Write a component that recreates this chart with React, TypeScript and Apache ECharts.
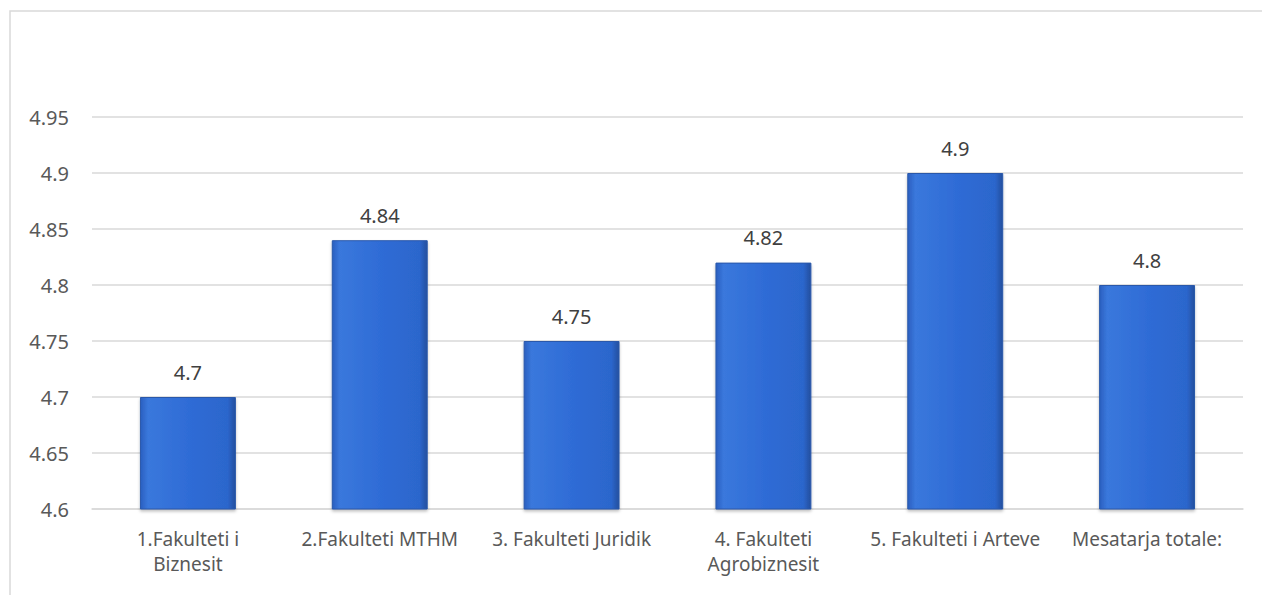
import React, { useEffect, useRef } from "react";
import * as echarts from "echarts";

const categories = [
  "1.Fakulteti i\nBiznesit",
  "2.Fakulteti MTHM",
  "3. Fakulteti Juridik",
  "4. Fakulteti\nAgrobiznesit",
  "5. Fakulteti i Arteve",
  "Mesatarja totale:",
];
const values = [4.7, 4.84, 4.75, 4.82, 4.9, 4.8];
const yMin = 4.6;
const yMax = 4.95;
const yStep = 0.05;

export default function App() {
  const ref = useRef<HTMLDivElement>(null);
  useEffect(() => {
    if (!ref.current) return;
    const chart = echarts.init(ref.current, undefined, { renderer: "svg" });
    const font = "'Noto Sans', 'Open Sans', sans-serif";
    chart.setOption({
      animation: false,
      backgroundColor: "#ffffff",
      graphic: [
        {
          type: "rect",
          shape: { x: 10, y: 11, width: 1300, height: 700 },
          style: { fill: "none", stroke: "#d9d9d9", lineWidth: 1.5 },
          silent: true,
          z: -1,
        },
      ],
      grid: { left: 92, right: 19, top: 117, bottom: 86, containLabel: false },
      xAxis: {
        type: "category",
        data: categories,
        axisTick: { show: false },
        axisLine: { show: true, lineStyle: { color: "#d9d9d9", width: 1.5 } },
        axisLabel: {
          color: "#595959",
          fontSize: 19,
          fontFamily: font,
          margin: 17,
          lineHeight: 25,
          interval: 0,
        },
      },
      yAxis: {
        type: "value",
        min: yMin,
        max: yMax,
        interval: yStep,
        axisLine: { show: false },
        axisTick: { show: false },
        splitLine: { lineStyle: { color: "#d9d9d9", width: 1.5 } },
        axisLabel: {
          color: "#595959",
          fontSize: 20,
          fontFamily: font,
          margin: 23,
          formatter: (v: number) => String(parseFloat(v.toFixed(2))),
        },
      },
      series: [
        {
          type: "bar",
          data: values,
          barWidth: "50%",
          itemStyle: {
            color: new echarts.graphic.LinearGradient(0, 0, 1, 0, [
              { offset: 0, color: "#2a5fc0" },
              { offset: 0.08, color: "#3a78dc" },
              { offset: 0.5, color: "#2f6cd6" },
              { offset: 0.92, color: "#2c66cc" },
              { offset: 1, color: "#234f9e" },
            ]),
            borderColor: "#2a58aa",
            borderWidth: 1,
            shadowColor: "rgba(0,0,0,0.25)",
            shadowBlur: 3,
            shadowOffsetY: 2,
          },
          label: {
            show: true,
            position: "top",
            distance: 15,
            color: "#404040",
            fontSize: 20,
            fontFamily: font,
          },
        },
      ],
    });
    return () => chart.dispose();
  }, []);
  return (
    <div
      ref={ref}
      style={{ position: "fixed", left: 0, top: 0, width: 1262, height: 595 }}
    />
  );
}
